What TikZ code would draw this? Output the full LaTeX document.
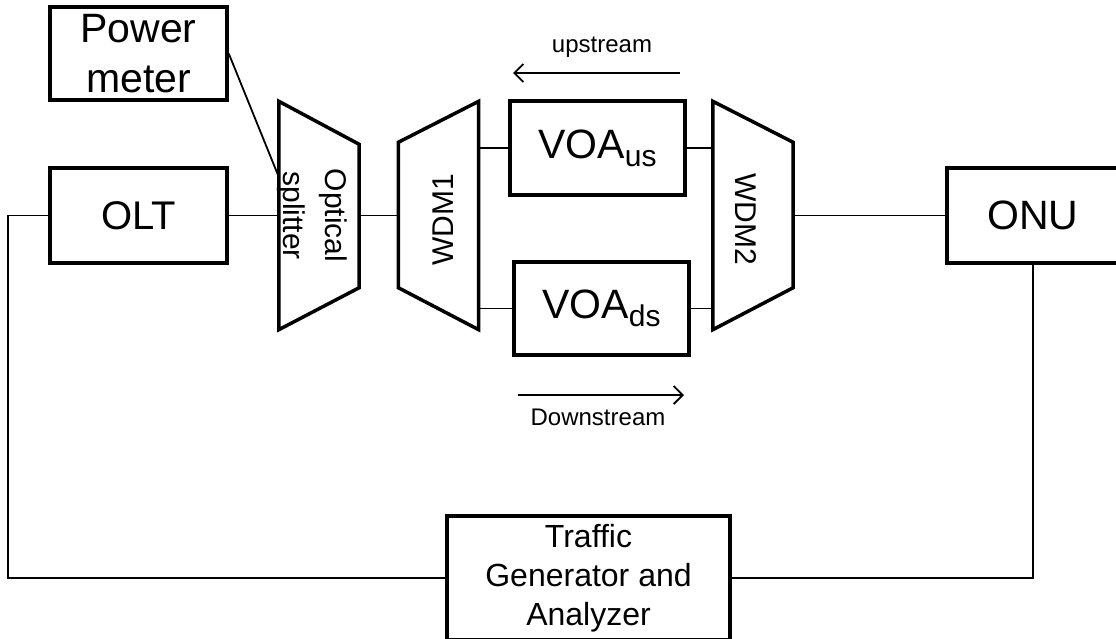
\documentclass[tikz,border=0pt]{standalone}
\usepackage{fontspec}
\setmainfont{Liberation Sans}
\usetikzlibrary{positioning,calc,arrows.meta}
\tikzset{>={Straight Barb[length=9pt,width=18pt]}}
\tikzset{
  blk/.style={draw, rectangle, line width=3.5pt, inner sep=0pt},
  trap/.style={rectangle, inner sep=0pt, minimum width=80pt, minimum height=228pt},
  wire/.style={line width=1.8pt},
}

\begin{document}
\begin{tikzpicture}[x=1pt,y=1pt]
  \useasboundingbox (0,0) rectangle (1116,-638);
  \clip (0,0) rectangle (1116,-638);
  % boxes
  \node[blk, minimum width=177pt, minimum height=95pt, font=\fontsize{40}{48}\selectfont] (n1) at (138.5,-215.5) {OLT};
  \node[blk, above of=n1, node distance=162pt, minimum width=177pt, minimum height=93pt, align=center, font=\fontsize{41}{50}\selectfont] (n0) {Power\\meter};
  \node[trap, right of=n1, node distance=180.5pt] (n2) {};
  \node[trap, right of=n2, node distance=119.5pt] (n3) {};
  \node[blk, minimum width=175pt, minimum height=94pt, font=\fontsize{41}{48}\selectfont] (n4) at (597.5,-148) {VOA\raisebox{-8pt}{\fontsize{30}{30}\selectfont us}};
  \node[blk, minimum width=175pt, minimum height=93pt, font=\fontsize{41}{48}\selectfont] (n5) at (601.5,-308.5) {VOA\raisebox{-8pt}{\fontsize{30}{30}\selectfont ds}};
  \node[trap, right of=n3, node distance=314.5pt] (n6) {};
  \node[blk, minimum width=172pt, minimum height=95pt, font=\fontsize{41}{48}\selectfont] (n7) at (1033,-215.5) {ONU};
  \node[blk, minimum width=283pt, minimum height=124pt, align=center, font=\fontsize{32}{39}\selectfont] (n8) at (588.5,-578) {Traffic\\Generator and\\Analyzer};
  % trapezoids
  \draw[line width=3.5pt] (n2.north west) -- (n2.south west) -- ($(n2.south east)+(0,42)$) -- ($(n2.north east)+(0,-43)$) -- cycle;
  \draw[line width=3.5pt] ($(n3.north west)+(0,-41)$) -- ($(n3.south west)+(0,42)$) -- (n3.south east) -- (n3.north east) -- cycle;
  \draw[line width=3.5pt] (n6.north west) -- (n6.south west) -- ($(n6.south east)+(0,42)$) -- ($(n6.north east)+(0,-41)$) -- cycle;
  \node[rotate=-90, align=center, font=\fontsize{30}{42}\selectfont] (t2) at ($(n2)+(-6.5,0)$) {Optical\\splitter};
  \node[rotate=90, font=\fontsize{30}{36}\selectfont] (t3) at ($(n3)+(4.5,-4)$) {WDM1};
  \node[rotate=-90, font=\fontsize{30}{36}\selectfont] (t6) at ($(n6)+(-7,-4)$) {WDM2};
  % connectors
  \coordinate (aux1) at ($(n2.west)+(0,38.5)$);
  \draw[wire] (n0.east) -- (aux1);
  \draw[wire] (n1.east) -- (n2.west);
  \draw[wire] (n2.east) -- (n3.west);
  \draw[wire] (n4.west) -- (n4.west -| n3.east);
  \draw[wire] (n5.west) -- (n5.west -| n3.east);
  \draw[wire] (n4.east) -- (n4.east -| n6.west);
  \draw[wire] (n5.east) -- (n5.east -| n6.west);
  \draw[wire] (n6.east) -- (n7.west);
  \coordinate[left of=n1, node distance=130.5pt] (aux2);
  \draw[wire] (n1.west) -- (aux2) |- (n8.west);
  \draw[wire] (n7.south) |- (n8.east);
  % directions
  \coordinate (aux3) at (680,-73);
  \coordinate (aux4) at (513,-73);
  \coordinate (aux5) at (518,-395);
  \coordinate (aux6) at (684,-395);
  \draw[wire,->] (aux3) -- node[above, inner sep=0pt, yshift=15pt, xshift=5.5pt, font=\fontsize{24}{28}\selectfont] (t4) {upstream} (aux4);
  \draw[wire,->] (aux5) -- node[below, inner sep=0pt, yshift=-13pt, xshift=-3pt, font=\fontsize{24}{28}\selectfont] (t5) {Downstream} (aux6);
\end{tikzpicture}
\end{document}
